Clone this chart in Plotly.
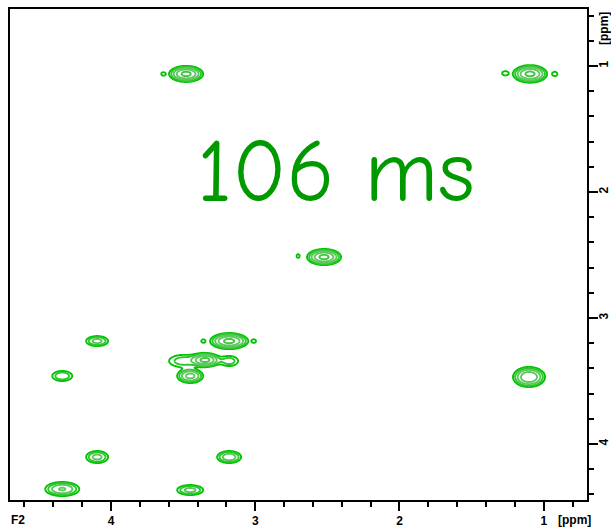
import numpy as np
import plotly.graph_objects as go

# Peak list (ppm)
peak_f2 = [3.479, 3.638, 1.095, 1.268, 0.922, 2.523, 2.703, 4.096, 3.181, 3.361, 3.008,
           3.500, 3.347, 3.181, 3.451, 4.338, 1.102, 4.096, 3.181, 4.338, 3.451]
peak_f1 = [1.063, 1.063, 1.063, 1.058, 1.063, 2.516, 2.508, 3.183, 3.183, 3.183, 3.183,
           3.341, 3.333, 3.341, 3.460, 3.460, 3.468, 4.103, 4.103, 4.357, 4.365]
# half extent of the outer contour (ppm)
peak_hw_f2 = [0.118, 0.012, 0.118, 0.020, 0.016, 0.118, 0.010, 0.076, 0.132, 0.012, 0.012,
              0.097, 0.104, 0.062, 0.090, 0.069, 0.111, 0.076, 0.083, 0.118, 0.090]
peak_hw_f1 = [0.064, 0.012, 0.070, 0.016, 0.016, 0.064, 0.014, 0.040, 0.064, 0.012, 0.012,
              0.048, 0.056, 0.040, 0.056, 0.040, 0.080, 0.048, 0.048, 0.056, 0.040]
peak_amp = [12, 1.4, 12, 1.5, 1.4, 12, 1.4, 4, 12, 1.4, 1.4,
            2.5, 12, 2.5, 7, 3, 10, 4, 5, 6, 4]

x_tick_vals = [4, 3, 2, 1]
y_tick_vals = [1, 2, 3, 4]

# grid (library input built from the peak list)
xg = np.arange(0.70, 4.70, 0.005)
yg = np.arange(0.548, 4.444, 0.004)
X, Y = np.meshgrid(xg, yg)
Z = np.zeros_like(X)
for cx, cy, hx, hy, a in zip(peak_f2, peak_f1, peak_hw_f2, peak_hw_f1, peak_amp):
    s = np.sqrt(2 * np.log(a))
    sx, sy = hx / s, hy / s
    Z += a * np.exp(-((X - cx) ** 2 / (2 * sx ** 2) + (Y - cy) ** 2 / (2 * sy ** 2)))
Zl = np.log10(Z + 1e-3).astype(np.float32)

fig = go.Figure()
fig.add_trace(go.Contour(
    x=xg.astype(np.float32), y=yg.astype(np.float32), z=Zl,
    contours=dict(start=0, end=1.25, size=0.25, coloring='lines'),
    colorscale=[[0, '#00c400'], [0.5, '#70c870'], [1, '#1ec81e']],
    line=dict(width=1.9), showscale=False, hoverinfo='skip'))

tickfont = dict(family='Liberation Sans, Arial', size=12, color='black', weight='bold')

fig.update_layout(
    width=611, height=529,
    margin=dict(l=10, r=24, t=9, b=29, autoexpand=False),
    paper_bgcolor='white', plot_bgcolor='white',
    showlegend=False,
    xaxis=dict(range=[4.70, 0.70], tickvals=x_tick_vals, ticktext=[str(v) for v in x_tick_vals],
               ticks='outside', ticklen=9, tickwidth=2, tickcolor='black',
               minor=dict(dtick=0.2, tick0=0, ticks='outside', ticklen=5, tickwidth=2, tickcolor='black'),
               showline=True, linewidth=2, linecolor='black', mirror=True, automargin=False,
               showgrid=False, zeroline=False, tickfont=tickfont),
    yaxis=dict(range=[4.444, 0.548], side='right', tickvals=y_tick_vals,
               ticktext=[str(v) for v in y_tick_vals], tickangle=-90,
               ticks='outside', ticklen=9, tickwidth=2, tickcolor='black',
               minor=dict(dtick=0.2, tick0=0, ticks='outside', ticklen=5, tickwidth=2, tickcolor='black'),
               showline=True, linewidth=2, linecolor='black', mirror=True, automargin=False,
               ticklabelstandoff=-4,
               showgrid=False, zeroline=False, tickfont=tickfont),
    annotations=[
        dict(text='F2', xref='paper', yref='paper', x=-0.002, y=0, yshift=-20,
             xanchor='left', yanchor='middle', showarrow=False, font=tickfont),
        dict(text='[ppm]', xref='paper', yref='paper', x=1.01, y=0, yshift=-20,
             xanchor='right', yanchor='middle', showarrow=False, font=tickfont),
        dict(text='[ppm]', xref='paper', yref='paper', x=1, xshift=17, y=1.0, yshift=-20,
             xanchor='center', yanchor='middle', textangle=-90, showarrow=False, font=tickfont),
        dict(text='106 ms', xref='paper', yref='paper', x=0.565, y=0.668,
             xanchor='center', yanchor='middle', showarrow=False,
             font=dict(family='Comic Sans MS, Comic Neue, Noto Sans', size=89, color='#009900')),
    ],
)

fig.write_html('out.html', post_script="document.body.style.margin='0';",
               config={'displayModeBar': False})
